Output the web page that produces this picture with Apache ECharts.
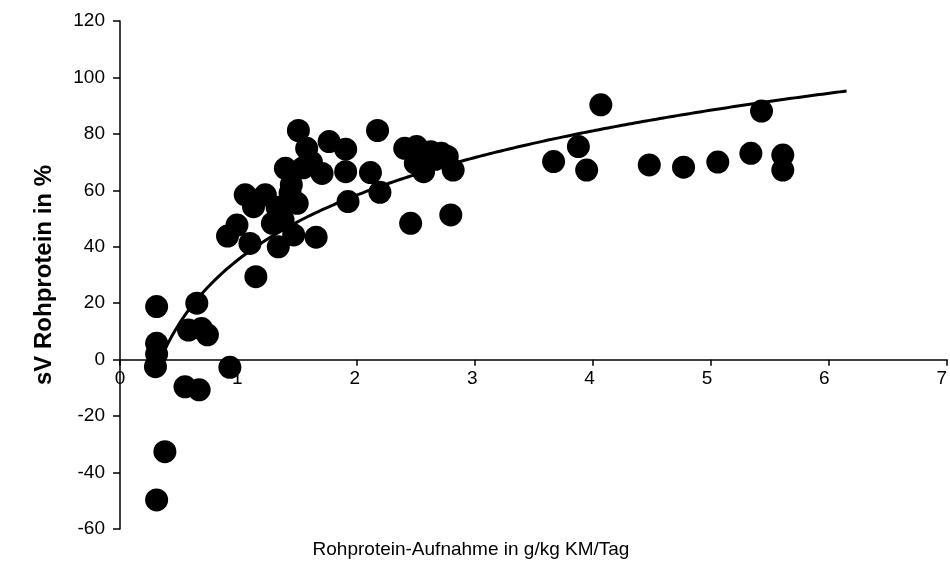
<!DOCTYPE html>
<html>
<head>
<meta charset="utf-8">
<script src="https://cdn.jsdelivr.net/npm/echarts@6/dist/echarts.min.js"></script>
<style>html,body{margin:0;padding:0;background:#fff;}#chart{width:950px;height:565px;}</style>
</head>
<body>
<div id="chart"></div>
<script>
// Data
const xValues = [0.31,0.38,0.31,0.65,0.31,0.31,0.30,0.58,0.69,0.74,0.55,0.67,0.93,
  0.91,0.99,1.06,1.10,1.13,1.15,1.23,1.29,1.33,1.34,1.38,1.40,1.44,1.45,1.47,1.50,1.51,1.55,1.58,1.62,1.66,1.71,1.77,1.91,1.91,1.93,2.12,2.18,2.20,
  2.41,2.51,2.55,2.63,2.67,2.72,2.77,2.50,2.57,2.82,2.46,2.80,
  3.67,3.88,3.95,4.07,4.48,4.77,5.06,5.34,5.43,5.61,5.61];
const yValues = [-49.7,-32.6,18.8,20,5.8,2,-2.5,10.5,11,8.8,-9.6,-10.7,-2.7,
  43.8,47.7,58.4,41.2,54.2,29.4,58.4,48.3,54,40,49.5,67.8,59,62,44.2,55.4,81.2,68,74.9,70,43.4,66,77.3,74.6,66.6,56,66.3,81.2,59.3,
  74.9,75.5,72,73.7,71,73.1,72,69.6,66.6,67.2,48.3,51.3,
  70.2,75.5,67.2,90.3,69,68.2,70,73.1,88.1,72.5,67.2];
const yTicks = [-60,-40,-20,0,20,40,60,80,100,120];
const xTicks = [0,1,2,3,4,5,6,7];
const xTitle = 'Rohprotein-Aufnahme in g/kg KM/Tag';
const yTitle = 'sV Rohprotein in %';
const trendForward = 0.54; // spreadsheet-style forward forecast of the trendline

const points = xValues.map((x, i) => [x, yValues[i]]);

// logarithmic least-squares trendline (y = a ln x + b), as the spreadsheet computes it
const lx = xValues.map(Math.log);
const n = lx.length;
const mX = lx.reduce((s, v) => s + v, 0) / n;
const mY = yValues.reduce((s, v) => s + v, 0) / n;
let sxy = 0, sxx = 0;
for (let i = 0; i < n; i++) { sxy += (lx[i] - mX) * (yValues[i] - mY); sxx += (lx[i] - mX) ** 2; }
const a = sxy / sxx, b = mY - a * mX;
const x0 = Math.min(...xValues), x1 = Math.max(...xValues) + trendForward;
const trend = [];
for (let k = 0; k <= 200; k++) { const x = x0 + (x1 - x0) * k / 200; trend.push([x, a * Math.log(x) + b]); }

const font = 'Liberation Sans';
const xMin = xTicks[0], xMax = xTicks[xTicks.length - 1];
const yMin = yTicks[0], yMax = yTicks[yTicks.length - 1];
const chart = echarts.init(document.getElementById('chart'));
chart.setOption({
  animation: false,
  backgroundColor: '#fff',
  grid: [
    { left: 120, right: 3, top: 21, bottom: 36 },
    // helper grid whose bottom edge sits on y = 0, used to place the x tick labels next to the zero line
    { left: 120, right: 3, top: 21, bottom: 205.3 }
  ],
  title: {
    text: xTitle, left: 466, top: 535, textAlign: 'center',
    textStyle: { fontFamily: font, fontSize: 19, fontWeight: 'normal', color: '#000' }
  },
  xAxis: [{
    type: 'value', gridIndex: 0, min: xMin, max: xMax, interval: 1,
    splitLine: { show: false },
    axisLine: { onZero: true, lineStyle: { color: '#000', width: 1.5 } },
    axisTick: { show: true, inside: false, length: 6, lineStyle: { color: '#000', width: 1.5 } },
    axisLabel: { show: false }
  }, {
    type: 'value', gridIndex: 1, min: xMin, max: xMax, interval: 1,
    splitLine: { show: false },
    axisLine: { show: false },
    axisTick: { show: false },
    axisLabel: { color: '#000', fontFamily: font, fontSize: 19, margin: 10 }
  }],
  yAxis: [{
    type: 'value', gridIndex: 0, min: yMin, max: yMax, interval: 20,
    splitLine: { show: false },
    name: yTitle, nameLocation: 'middle', nameGap: 64, nameRotate: 90,
    nameTextStyle: { fontFamily: font, fontSize: 24, fontWeight: 'bold', color: '#000' },
    axisLine: { show: true, onZero: false, lineStyle: { color: '#000', width: 1.5 } },
    axisTick: { show: true, length: 7, lineStyle: { color: '#000', width: 1.5 } },
    axisLabel: { color: '#000', fontFamily: font, fontSize: 19, margin: 15 }
  }, {
    type: 'value', gridIndex: 1, min: 0, max: yMax, show: false
  }],
  series: [
    { type: 'scatter', xAxisIndex: 0, yAxisIndex: 0, data: points, symbol: 'circle', symbolSize: 23, itemStyle: { color: '#000', opacity: 1 }, z: 2 },
    { type: 'line', xAxisIndex: 0, yAxisIndex: 0, data: trend, showSymbol: false, smooth: false, lineStyle: { color: '#000', width: 3 }, z: 3 }
  ]
});
</script>
</body>
</html>
